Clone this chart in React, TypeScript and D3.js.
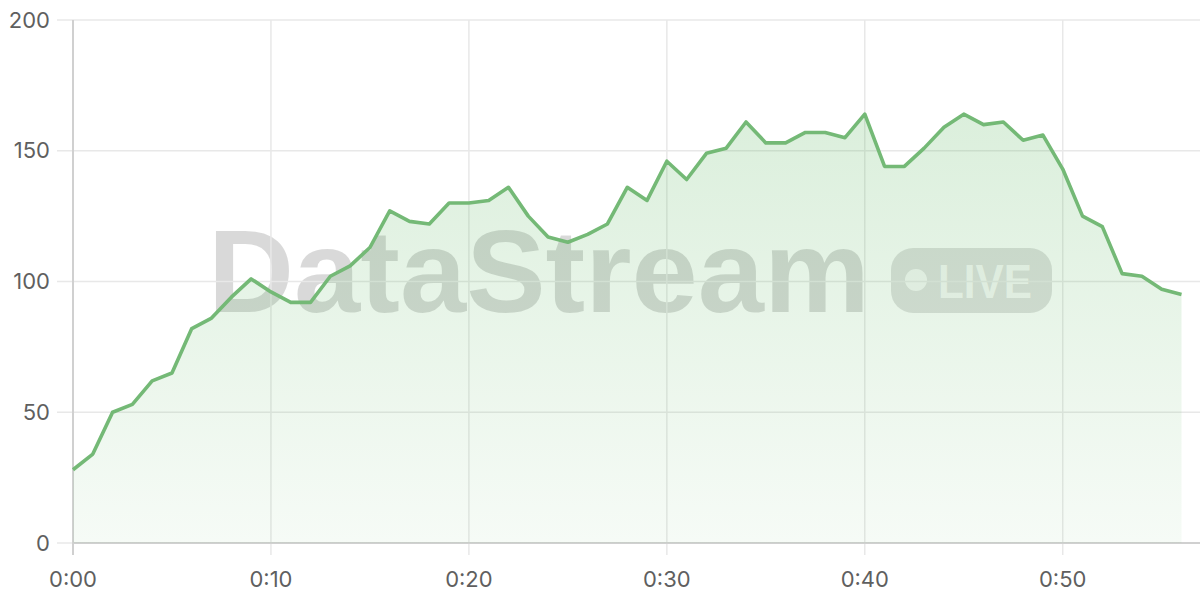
import React from "react";
import * as d3 from "d3";

const minutes: number[] = d3.range(0, 57);
const values: number[] = [
  28, 34, 50, 53, 62, 65, 82, 86, 94, 101,
  96, 92, 92, 102, 106, 113, 127, 123, 122, 130,
  130, 131, 136, 125, 117, 115, 118, 122, 136, 131,
  146, 139, 149, 151, 161, 153, 153, 157, 157, 155,
  164, 144, 144, 151, 159, 164, 160, 161, 154, 156,
  143, 125, 121, 103, 102, 97, 95,
];
const yTicks: number[] = [0, 50, 100, 150, 200];
const xTicks: number[] = [0, 10, 20, 30, 40, 50];
const xTickLabels: string[] = ["0:00", "0:10", "0:20", "0:30", "0:40", "0:50"];

const W = 1200;
const H = 600;
const left = 73;
const top = 20;
const bottom = 543;
const rightEdge = 1200;

export default function App() {
  const x = d3.scaleLinear().domain([0, 56]).range([left, 1181.5]);
  const y = d3.scaleLinear().domain([0, 200]).range([bottom, top]);
  const data = minutes.map((m, i) => ({ m, v: values[i] }));
  const line = d3
    .line<{ m: number; v: number }>()
    .x((d) => x(d.m))
    .y((d) => y(d.v));
  const area = d3
    .area<{ m: number; v: number }>()
    .x((d) => x(d.m))
    .y0(y(0))
    .y1((d) => y(d.v));
  const font = "Inter, 'Noto Sans', sans-serif";
  return (
    <svg
      width={W}
      height={H}
      style={{ position: "absolute", left: 0, top: 0, background: "#fff" }}
    >
      <defs>
        <linearGradient id="fillGrad" x1="0" y1="0" x2="0" y2="1">
          <stop offset="0%" stopColor="#4caf50" stopOpacity={0.2} />
          <stop offset="100%" stopColor="#4caf50" stopOpacity={0.05} />
        </linearGradient>
      </defs>
      {/* watermark */}
      <g>
        <text
          x={208}
          y={312}
          fontFamily="'Liberation Sans', Arial, sans-serif"
          fontWeight={700}
          fontSize={117}
          fill="rgba(0,0,0,0.15)"
          textLength={662}
          lengthAdjust="spacingAndGlyphs"
        >
          DataStream
        </text>
        <rect x={891} y={248} width={161} height={65} rx={22} fill="rgba(0,0,0,0.12)" />
        <circle cx={916} cy={280} r={11} fill="rgba(255,255,255,0.75)" />
        <text
          x={938}
          y={298}
          fontFamily="'Liberation Sans', Arial, sans-serif"
          fontWeight={700}
          fontSize={48}
          fill="rgba(255,255,255,0.75)"
          textLength={94}
          lengthAdjust="spacingAndGlyphs"
        >
          LIVE
        </text>
      </g>
      {/* grid */}
      {yTicks.map((t) => (
        <line key={"gy" + t} x1={57} x2={rightEdge} y1={y(t)} y2={y(t)} stroke="#e8e8e8" strokeWidth={1.5} />
      ))}
      {xTicks.map((t) => (
        <line key={"gx" + t} x1={x(t)} x2={x(t)} y1={top} y2={555} stroke="#e8e8e8" strokeWidth={1.5} />
      ))}
      {/* axes */}
      <line x1={left} x2={left} y1={top} y2={555} stroke="#d0d0d0" strokeWidth={2} />
      <line x1={left} x2={rightEdge} y1={bottom} y2={bottom} stroke="#d0d0d0" strokeWidth={2} />
      {/* area & line */}
      <path d={area(data) || ""} fill="url(#fillGrad)" />
      <path d={line(data) || ""} fill="none" stroke="#74b976" strokeWidth={3.6} strokeLinejoin="round" />
      {/* labels */}
      {yTicks.map((t) => (
        <text
          key={"ly" + t}
          x={50}
          y={y(t)}
          dy="0.35em"
          textAnchor="end"
          fontFamily={font}
          fontSize={22}
          fill="#5f5f5f"
        >
          {t}
        </text>
      ))}
      {xTicks.map((t, i) => (
        <text
          key={"lx" + t}
          x={x(t)}
          y={579}
          dy="0.35em"
          textAnchor="middle"
          fontFamily={font}
          fontSize={22}
          fill="#5f5f5f"
        >
          {xTickLabels[i]}
        </text>
      ))}
    </svg>
  );
}
